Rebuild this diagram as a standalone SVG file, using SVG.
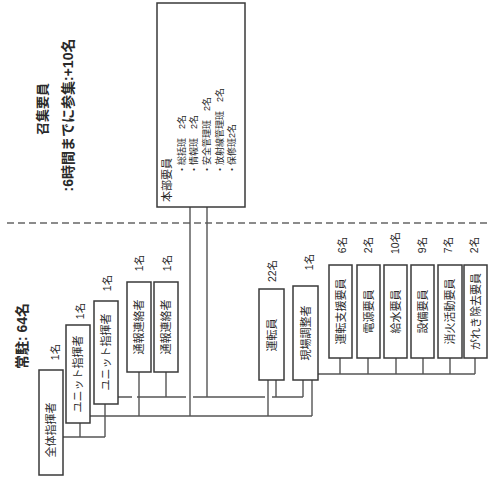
<svg xmlns="http://www.w3.org/2000/svg" width="488" height="477" viewBox="0 0 488 477">
<style>
text{font-family:"Liberation Sans","Noto Sans CJK JP",sans-serif;fill:#2a2a2a}
.box{fill:#fff;stroke:#3a3a3a;stroke-width:1.5}
.ln{fill:none;stroke:#555;stroke-width:1.4}
.lbl{font-size:11px;text-anchor:middle;dominant-baseline:central}
.num{font-size:10.5px;text-anchor:middle;dominant-baseline:central}
.ttl{font-size:14px;font-weight:bold;text-anchor:middle;dominant-baseline:central}
.itm{font-size:9px;dominant-baseline:central}
</style>
<rect width="488" height="477" fill="#fff"/>
<line x1="7" y1="223" x2="487" y2="223" stroke="#666" stroke-width="1.4" stroke-dasharray="7,4"/>
<g id="titles">
<text class="ttl" transform="translate(42,109) rotate(-90)" style="font-size:13px">召集要員</text>
<text class="ttl" transform="translate(68,115) rotate(-90)">:6時間までに参集:+10名</text>
<text class="ttl" transform="translate(22,336) rotate(-90)">常駐: 64名</text>
</g>
<g id="connectors">
<path class="ln" d="M190,207V416M207,207V397"/>
<path class="ln" d="M118,397H132M137,397H186M193,397H265M272,397H303"/>
<path class="ln" d="M166,372V397M276,380V397M303,380V397"/>
<path class="ln" d="M90,416H312M139,372V416M268,380V416M312,380V416"/>
<path class="ln" d="M63,437H105M80,423V437M105,404V437"/>
<path class="ln" d="M318,374H475M340,358V374M368,358V374M396,358V374M423,358V374M450,358V374M475,358V374"/>
</g>
<g id="honbu">
<rect class="box" x="157" y="3" width="88" height="204"/>
<text transform="translate(167,202) rotate(-90)" style="font-size:11px;dominant-baseline:central">本部要員</text>
<text class="itm" transform="translate(182,174) rotate(-90)">・総括班　2名</text>
<text class="itm" transform="translate(194,174) rotate(-90)">・情報班　2名</text>
<text class="itm" transform="translate(207,174) rotate(-90)">・安全管理班　2名</text>
<text class="itm" transform="translate(220,174) rotate(-90)">・放射線管理班　2名</text>
<text class="itm" transform="translate(232,174) rotate(-90)">・保修班2名</text>
</g>
<g id="zentai">
<rect class="box" x="39" y="370" width="24" height="105"/>
<text class="lbl" transform="translate(51,430) rotate(-90)">全体指揮者</text>
<text class="num" transform="translate(55,352) rotate(-90)">1名</text>
</g>
<g id="unit1">
<rect class="box" x="66" y="325" width="24" height="98"/>
<text class="lbl" transform="translate(78,374) rotate(-90)">ユニット指揮者</text>
<text class="num" transform="translate(80,311) rotate(-90)">1名</text>
</g>
<g id="unit2">
<rect class="box" x="94" y="301" width="24" height="103"/>
<text class="lbl" transform="translate(106,352) rotate(-90)">ユニット指揮者</text>
<text class="num" transform="translate(107,283) rotate(-90)">1名</text>
</g>
<g id="tsuho1">
<rect class="box" x="127" y="282" width="24" height="90"/>
<text class="lbl" transform="translate(139,327) rotate(-90)">通報連絡者</text>
<text class="num" transform="translate(139,263) rotate(-90)">1名</text>
</g>
<g id="tsuho2">
<rect class="box" x="154" y="282" width="24" height="90"/>
<text class="lbl" transform="translate(166,327) rotate(-90)">通報連絡者</text>
<text class="num" transform="translate(167,263) rotate(-90)">1名</text>
</g>
<g id="unten">
<rect class="box" x="259" y="289" width="25" height="91"/>
<text class="lbl" transform="translate(271.5,335) rotate(-90)">運転員</text>
<text class="num" transform="translate(272,271) rotate(-90)">22名</text>
</g>
<g id="genba">
<rect class="box" x="293" y="286" width="25" height="94"/>
<text class="lbl" transform="translate(305.5,333) rotate(-90)">現場調整者</text>
<text class="num" transform="translate(309,262) rotate(-90)">1名</text>
</g>
<g id="r1">
<rect class="box" x="329" y="265" width="23" height="93"/>
<text class="lbl" transform="translate(340.5,311.5) rotate(-90)">運転支援要員</text>
<text class="num" transform="translate(342,245) rotate(-90)">6名</text>
</g>
<g id="r2">
<rect class="box" x="357" y="265" width="23" height="93"/>
<text class="lbl" transform="translate(368.5,311.5) rotate(-90)">電源要員</text>
<text class="num" transform="translate(368,245) rotate(-90)">2名</text>
</g>
<g id="r3">
<rect class="box" x="384" y="265" width="23" height="93"/>
<text class="lbl" transform="translate(395.5,311.5) rotate(-90)">給水要員</text>
<text class="num" transform="translate(395,243) rotate(-90)">10名</text>
</g>
<g id="r4">
<rect class="box" x="411" y="265" width="23" height="93"/>
<text class="lbl" transform="translate(422.5,311.5) rotate(-90)">設備要員</text>
<text class="num" transform="translate(422,245) rotate(-90)">9名</text>
</g>
<g id="r5">
<rect class="box" x="438" y="265" width="24" height="93"/>
<text class="lbl" transform="translate(450,311.5) rotate(-90)">消火活動要員</text>
<text class="num" transform="translate(448,245) rotate(-90)">7名</text>
</g>
<g id="r6">
<rect class="box" x="464" y="265" width="23" height="93"/>
<text class="lbl" transform="translate(475.5,311.5) rotate(-90)">がれき除去要員</text>
<text class="num" transform="translate(474,245) rotate(-90)">2名</text>
</g>
</svg>
